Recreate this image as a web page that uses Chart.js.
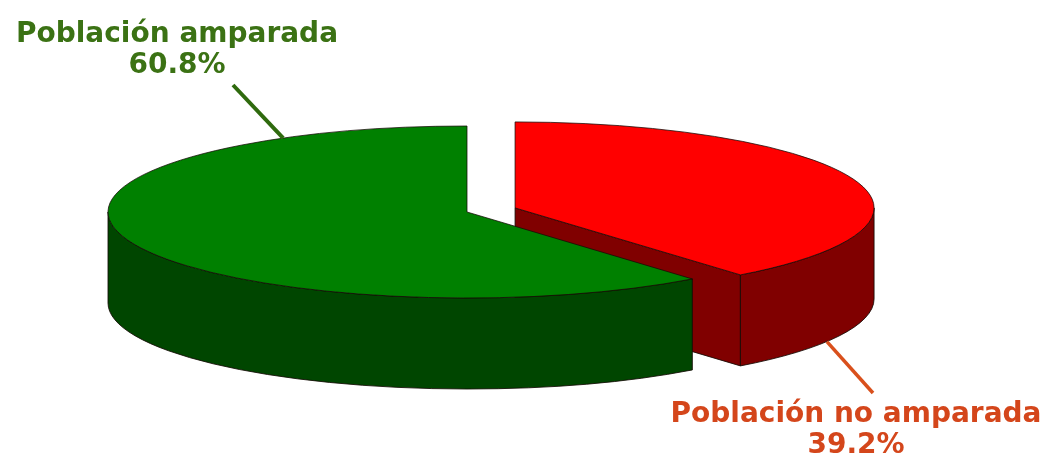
<!DOCTYPE html>
<html><head><meta charset="utf-8">
<script src="https://cdn.jsdelivr.net/npm/chart.js@4/dist/chart.umd.min.js"></script>
<style>html,body{margin:0;padding:0;background:#fff;} #wrap{position:relative;width:1059px;height:460px;}</style>
</head><body><div id="wrap"><canvas id="c" width="1059" height="460"></canvas></div>
<script>
// ---- data ----
const categories = ['Población amparada', 'Población no amparada'];
const values = [60.8, 39.2];
const valueLabels = ['60.8%', '39.2%'];

// ---- style ----
const topColors = ['#008000', '#ff0000'];
const sideColors = ['#004600', '#800000'];
const textColors = ['#3b7214', '#d4461b'];
const lineColors = ['#2f6a0e', '#d9501c'];
const explode = [0, 0.142];          // fraction of radius, per slice
const RX = 359, RY = 86, DEPTH = 91; // ellipse geometry in px
const FONT = 'bold 28px "DejaVu Sans", Verdana, sans-serif';

const total = values.reduce((a, b) => a + b, 0);

function sliceGeom(chart, i) {
  const el = chart.getDatasetMeta(0).data[i];
  const mid = (el.startAngle + el.endAngle) / 2;
  const cx = el.x + explode[i] * RX * Math.cos(mid);
  const cy = el.y + explode[i] * RY * Math.sin(mid);
  return {el, cx, cy, a0: el.startAngle, a1: el.endAngle, mid};
}

function ptOn(g, a, dy) {
  return [g.cx + RX * Math.cos(a), g.cy + RY * Math.sin(a) + (dy || 0)];
}

const pie3d = {
  id: 'pie3d',
  beforeDatasetsDraw(chart) {
    const ctx = chart.ctx;
    const n = values.length;
    const geoms = [];
    for (let i = 0; i < n; i++) geoms.push(sliceGeom(chart, i));
    const order = geoms.map((g, i) => i).sort((p, q) => Math.sin(geoms[p].mid) - Math.sin(geoms[q].mid));
    ctx.save();
    ctx.lineJoin = 'round';
    // walls
    for (const i of order) {
      const g = geoms[i];
      ctx.fillStyle = sideColors[i];
      ctx.strokeStyle = 'rgba(20,10,5,0.85)';
      ctx.lineWidth = 1;
      // radial walls
      const radial = [];
      if (Math.cos(g.a0) < -1e-6) radial.push(g.a0);
      if (Math.cos(g.a1) > 1e-6) radial.push(g.a1);
      for (const a of radial) {
        const p = ptOn(g, a);
        ctx.beginPath();
        ctx.moveTo(g.cx, g.cy);
        ctx.lineTo(p[0], p[1]);
        ctx.lineTo(p[0], p[1] + DEPTH);
        ctx.lineTo(g.cx, g.cy + DEPTH);
        ctx.closePath();
        ctx.fill(); ctx.stroke();
      }
      // outer curved wall (front half only)
      for (let k = -1; k <= 2; k++) {
        const lo = Math.max(g.a0, 2 * Math.PI * k);
        const hi = Math.min(g.a1, 2 * Math.PI * k + Math.PI);
        if (hi - lo > 1e-4) {
          const e = ptOn(g, hi);
          ctx.beginPath();
          ctx.ellipse(g.cx, g.cy, RX, RY, 0, lo, hi, false);
          ctx.lineTo(e[0], e[1] + DEPTH);
          ctx.ellipse(g.cx, g.cy + DEPTH, RX, RY, 0, hi, lo, true);
          ctx.closePath();
          ctx.fill(); ctx.stroke();
        }
      }
    }
    // top faces drawn by the library's arc elements, projected
    for (const i of order) {
      const g = geoms[i];
      const el = g.el;
      const R = el.outerRadius;
      ctx.save();
      ctx.translate(g.cx, g.cy);
      ctx.scale(RX / R, RY / R);
      ctx.translate(-el.x, -el.y);
      el.draw(ctx);
      ctx.restore();
      ctx.beginPath();
      ctx.moveTo(g.cx, g.cy);
      ctx.ellipse(g.cx, g.cy, RX, RY, 0, g.a0, g.a1, false);
      ctx.closePath();
      ctx.strokeStyle = 'rgba(20,10,5,0.75)';
      ctx.lineWidth = 1;
      ctx.stroke();
    }
    ctx.restore();
    return false;
  },
  afterDraw(chart) {
    const ctx = chart.ctx;
    const g0 = sliceGeom(chart, 0);
    const g1 = sliceGeom(chart, 1);
    // leader lines
    const lines = [
      {from: ptOn(g0, -120.8 * Math.PI / 180), to: [233, 85]},
      {from: ptOn(g1, 29.7 * Math.PI / 180, DEPTH), to: [873, 393]}
    ];
    const labelPos = [[177, 42, 73], [856, 422, 453]];
    ctx.save();
    ctx.lineCap = 'butt';
    for (let i = 0; i < 2; i++) {
      ctx.strokeStyle = lineColors[i];
      ctx.lineWidth = i === 0 ? 4 : 3.5;
      ctx.beginPath();
      ctx.moveTo(lines[i].from[0], lines[i].from[1]);
      ctx.lineTo(lines[i].to[0], lines[i].to[1]);
      ctx.stroke();
      ctx.fillStyle = textColors[i];
      ctx.font = FONT;
      ctx.textAlign = 'center';
      ctx.textBaseline = 'alphabetic';
      ctx.fillText(categories[i], labelPos[i][0], labelPos[i][1]);
      ctx.fillText(valueLabels[i], labelPos[i][0], labelPos[i][2]);
    }
    ctx.restore();
  }
};

new Chart(document.getElementById('c'), {
  type: 'pie',
  data: {
    labels: categories,
    datasets: [{
      data: values,
      backgroundColor: topColors,
      borderWidth: 0,
      hoverOffset: 0
    }]
  },
  options: {
    responsive: false,
    animation: false,
    devicePixelRatio: 1,
    events: [],
    rotation: values[1] / total * 360,
    layout: {padding: {left: 0, right: 1059 - 2 * 467, top: 0, bottom: 460 - 2 * 212}},
    plugins: {legend: {display: false}, tooltip: {enabled: false}}
  },
  plugins: [pie3d]
});
</script>
</body></html>
